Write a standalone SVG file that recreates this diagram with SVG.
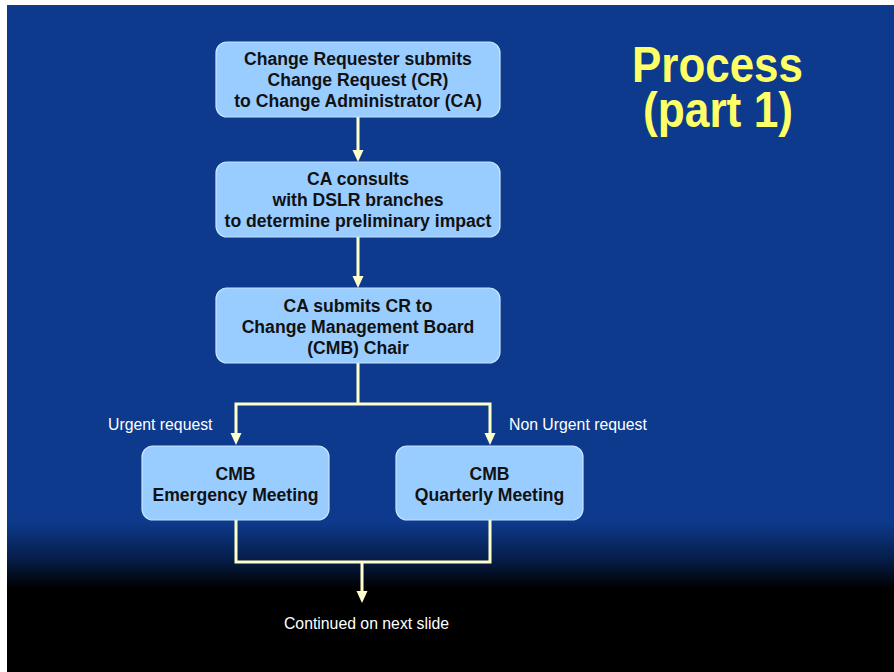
<svg xmlns="http://www.w3.org/2000/svg" width="894" height="672" viewBox="0 0 894 672">
<defs>
<linearGradient id="bg" x1="0" y1="5" x2="0" y2="672" gradientUnits="userSpaceOnUse">
<stop offset="0" stop-color="#0D3A8C"/>
<stop offset="0.775" stop-color="#0D3A8C"/>
<stop offset="0.83" stop-color="#061E4A"/>
<stop offset="0.875" stop-color="#000000"/>
<stop offset="1" stop-color="#000000"/>
</linearGradient>
<style>
.box{fill:#99CCFF;stroke:#C8E4FF;stroke-width:1.2}
.bt{font-family:"Liberation Sans",Arial,sans-serif;font-weight:bold;font-size:17.6px;fill:#111;text-anchor:middle}
.lbl{font-family:"Liberation Sans",Arial,sans-serif;font-size:15.8px;fill:#FFFFFF}
.con{fill:none;stroke:#FFFFCC;stroke-width:3}
.ah{fill:#FFFFCC}
.ttl{font-family:"Liberation Sans",Arial,sans-serif;font-weight:bold;font-size:50px;fill:#FFFF66;text-anchor:middle}
</style>
</defs>
<rect x="0" y="0" width="894" height="672" fill="#FFFFFF"/>
<rect x="7" y="5" width="887" height="667" fill="url(#bg)"/>
<g id="title">
<text class="ttl" x="717.5" y="82" textLength="171" lengthAdjust="spacingAndGlyphs">Process</text>
<text class="ttl" x="718" y="127" textLength="150" lengthAdjust="spacingAndGlyphs">(part 1)</text>
</g>
<g id="connectors">
<path class="con" d="M358 117 V150"/>
<path class="ah" d="M352.5 150 H363.5 L358 162 Z"/>
<path class="con" d="M358 237 V276"/>
<path class="ah" d="M352.5 276 H363.5 L358 288 Z"/>
<path class="con" d="M358 363 V404 M236 433 V404 H490 V433"/>
<path class="ah" d="M230.5 433 H241.5 L236 445 Z"/>
<path class="ah" d="M484.5 433 H495.5 L490 445 Z"/>
<path class="con" d="M236 520 V562 H490 V520 M362 562 V591"/>
<path class="ah" d="M356.5 591 H367.5 L362 603 Z"/>
</g>
<g id="node1">
<rect class="box" x="216" y="42" width="284" height="75" rx="11"/>
<text class="bt" x="358" y="65">Change Requester submits</text>
<text class="bt" x="358" y="86">Change Request (CR)</text>
<text class="bt" x="358" y="107">to Change Administrator (CA)</text>
</g>
<g id="node2">
<rect class="box" x="216" y="162" width="284" height="75" rx="11"/>
<text class="bt" x="358" y="185">CA consults</text>
<text class="bt" x="358" y="206">with DSLR branches</text>
<text class="bt" x="358" y="227">to determine preliminary impact</text>
</g>
<g id="node3">
<rect class="box" x="216" y="288" width="284" height="75" rx="11"/>
<text class="bt" x="358" y="312">CA submits CR to</text>
<text class="bt" x="358" y="333">Change Management Board</text>
<text class="bt" x="358" y="354">(CMB) Chair</text>
</g>
<g id="node4">
<rect class="box" x="142" y="446" width="187" height="74" rx="11"/>
<text class="bt" x="235.5" y="480">CMB</text>
<text class="bt" x="235.5" y="501">Emergency Meeting</text>
</g>
<g id="node5">
<rect class="box" x="396" y="446" width="187" height="74" rx="11"/>
<text class="bt" x="489.5" y="480">CMB</text>
<text class="bt" x="489.5" y="501">Quarterly Meeting</text>
</g>
<g id="labels">
<text class="lbl" x="108" y="430">Urgent request</text>
<text class="lbl" x="509" y="430">Non Urgent request</text>
<text class="lbl" x="366.5" y="629" text-anchor="middle">Continued on next slide</text>
</g>
</svg>
